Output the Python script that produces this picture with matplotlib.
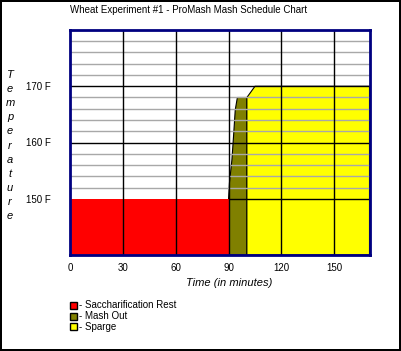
import matplotlib
matplotlib.use("Agg")
import matplotlib.pyplot as plt
from matplotlib.patches import Rectangle

## Chart data
title = "Wheat Experiment #1 - ProMash Mash Schedule Chart"
phases = ["Saccharification Rest", "Mash Out", "Sparge"]
colors = ["#ff0000", "#808000", "#ffff00"]

# saccharification rest: flat 150 F from 0 to 90 min
rest_time = [0, 0, 90, 90]
rest_temp = [140, 150, 150, 140]

# mash out: ramp from 150 F up to 168 F, then hold until ~100 min
mash_time = [90, 90, 90.5, 91.9, 92.8, 93.8, 95.0, 100.4, 100.4]
mash_temp = [140, 150, 152.8, 156.9, 161.0, 165.8, 168.0, 168.0, 140]

# sparge: 168 -> 170 F and hold to the end
sparge_time = [100.4, 100.4, 105.0, 170, 170]
sparge_temp = [140, 168, 170, 170, 140]

x_ticks = [0, 30, 60, 90, 120, 150]
y_ticks = [150, 160, 170]
y_ticklabels = ["150 F", "160 F", "170 F"]
x_label = "Time (in minutes)"
y_label = "Temperature"

W, H = 401, 351
plt.rcParams['font.family'] = ['Liberation Sans', 'DejaVu Sans']
fs = 7

fig = plt.figure(figsize=(W / 100, H / 100), dpi=100, facecolor="white",
                 edgecolor="black", linewidth=1.5)
ax = fig.add_axes([70 / W, 1 - 255 / H, 299.5 / W, 225 / H])
ax.set_xlim(0, 170)
ax.set_ylim(140, 180)

# fills
ax.fill(rest_time, rest_temp, color=colors[0], lw=0, zorder=3)
ax.fill(mash_time, mash_temp, facecolor=colors[1], edgecolor="black", lw=0.8, zorder=1)
ax.fill(sparge_time, sparge_temp, facecolor=colors[2], edgecolor="black", lw=0.8, zorder=1)

# grid: grey every 2 F above 150, black every 10 F and every 30 min
for t in range(152, 180, 2):
    if t % 10:
        ax.axhline(t, color="#a8a8a8", lw=1.0, zorder=2)
for t in [160, 170]:
    ax.axhline(t, color="black", lw=1.0, zorder=2)
ax.hlines(150, 90, 170, color="black", lw=1.0, zorder=2)
for m in x_ticks[1:]:
    ax.axvline(m, color="black", lw=1.0, zorder=4)

for s in ax.spines.values():
    s.set_color("#000080")
    s.set_linewidth(2)
    s.set_zorder(5)

ax.set_xticks(x_ticks)
ax.set_yticks(y_ticks)
ax.set_yticklabels(y_ticklabels)
ax.tick_params(length=0, labelsize=fs)
ax.tick_params(axis="x", pad=6)
ax.tick_params(axis="y", pad=14)

fig.text(70 / W, 1 - 10 / H, title, fontsize=fs, ha="left", va="center")
fig.text(229 / W, 1 - 283 / H, x_label, fontsize=8, style="italic",
         ha="center", va="center")
for i, ch in enumerate(y_label):
    fig.text(10 / W, 1 - (75 + 14.1 * i) / H, ch, fontsize=8, style="italic",
             ha="center", va="center")

# legend
for i, (name, c) in enumerate(zip(phases, colors)):
    y = 305.5 + 10.7 * i
    fig.patches.append(Rectangle((69.5 / W, 1 - (y + 3.5) / H), 7 / W, 7 / H,
                                 transform=fig.transFigure, facecolor=c,
                                 edgecolor="black", lw=1.0))
    fig.text(79 / W, 1 - y / H, "- " + name, fontsize=fs, ha="left", va="center")

fig.savefig("out.png", dpi=100)
